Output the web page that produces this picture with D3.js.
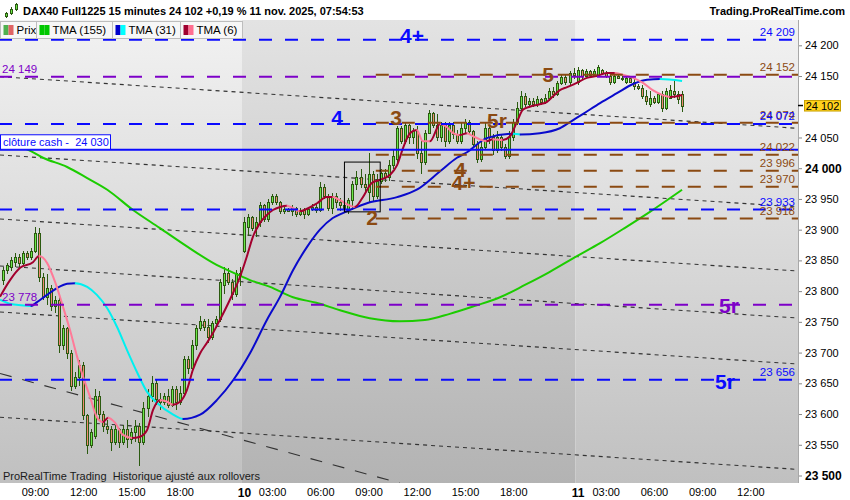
<!DOCTYPE html>
<html><head><meta charset="utf-8">
<script src="https://cdn.jsdelivr.net/npm/d3@7"></script>
<style>body{margin:0;background:#fff;}svg{display:block;font-family:"Liberation Sans",Arial,sans-serif;}text{white-space:pre;}</style>
</head><body><svg id="c" width="850" height="500"></svg>
<script>
// ---------- DATA ----------
const opens=[23818,23834,23840,23848,23855,23845,23862,23855,23866,23895,23823,23790,23805,23775,23785,23712,23740,23700,23645,23660,23680,23598,23550,23565,23630,23600,23580,23575,23555,23575,23555,23575,23560,23570,23580,23555,23610,23630,23650,23625,23620,23630,23615,23640,23620,23635,23690,23675,23712,23740,23752,23742,23725,23748,23755,23810,23830,23815,23795,23830,
23866,23905,23920,23903,23912,23940,23918,23945,23955,23945,23930,23933,23930,23935,23925,23932,23925,23933,23937,23932,23970,23955,23935,23955,23945,23940,23932,23948,23975,23985,23975,23962,23990,23955,23980,23992,23985,24005,24015,24065,24045,24070,24050,24060,24025,24010,24058,24090,24070,24050,24070,24045,24070,24055,24045,24065,24075,24060,24040,24015,24035,24065,24050,24030,24050,24035,24020,24050,24075,24098,24118,24105,24110,24105,24112,24108,24115,24125,24120,24138,24148,24140,24155,
24140,24160,24150,24158,24152,24150,24160,24155,24150,24140,24150,24147,24140,24147,24140,24133,24130,24118,24105,24115,24108,24120,24098,24115,24125,24120,24120];
const highs=[23839,23846,23856,23862,23860,23866,23866,23870,23905,23903,23830,23828,23810,23792,23790,23745,23742,23705,23668,23688,23685,23600,23575,23640,23638,23605,23590,23580,23582,23578,23582,23590,23578,23590,23585,23620,23640,23662,23655,23635,23635,23640,23645,23645,23645,23695,23695,23720,23745,23760,23755,23755,23752,23760,23820,23840,23838,23820,23835,23840,
23920,23925,23922,23920,23945,23942,23950,23958,23958,23947,23937,23936,23940,23937,23935,23935,23937,23942,23943,23978,23975,23958,23960,23960,23952,23945,23952,23980,23995,23998,23990,24025,23995,23990,23998,23998,24013,24030,24068,24068,24075,24072,24065,24068,24045,24062,24095,24092,24088,24075,24075,24075,24075,24062,24075,24080,24078,24062,24045,24048,24075,24068,24055,24060,24055,24040,24060,24080,24108,24125,24122,24115,24115,24117,24115,24120,24130,24132,24142,24152,24152,24158,24163,
24165,24162,24162,24160,24162,24168,24162,24158,24152,24155,24153,24150,24150,24150,24145,24137,24135,24128,24125,24118,24123,24125,24130,24135,24143,24125,24125];
const lows=[23810,23828,23833,23840,23840,23841,23850,23850,23862,23815,23785,23778,23768,23765,23700,23705,23690,23638,23640,23645,23590,23535,23545,23560,23590,23570,23568,23540,23550,23545,23550,23545,23552,23555,23515,23550,23595,23620,23615,23607,23615,23610,23612,23607,23615,23630,23665,23670,23705,23735,23735,23715,23720,23740,23750,23795,23810,23785,23790,23808,
23862,23890,23898,23888,23905,23912,23912,23940,23940,23925,23925,23928,23922,23920,23922,23918,23922,23930,23927,23928,23950,23930,23925,23935,23930,23928,23925,23932,23965,23968,23962,23945,23945,23950,23975,23978,23980,23998,24008,24040,24040,24040,24040,24015,23990,24005,24055,24065,24045,24043,24035,24040,24048,24040,24040,24055,24055,24033,24008,24010,24030,24040,24022,24025,24028,24015,24015,24045,24070,24090,24100,24100,24100,24100,24103,24105,24110,24115,24118,24135,24135,24135,24145,
24135,24145,24148,24148,24150,24148,24152,24147,24135,24137,24145,24142,24137,24138,24128,24127,24112,24103,24100,24104,24105,24092,24095,24112,24115,24105,24092];
const closes=[23834,23842,23851,23855,23845,23862,23855,23866,23895,23823,23790,23805,23775,23785,23712,23740,23700,23645,23660,23680,23598,23550,23570,23630,23600,23580,23575,23555,23575,23555,23575,23560,23570,23580,23555,23610,23630,23650,23625,23620,23630,23615,23640,23620,23635,23690,23675,23712,23740,23752,23742,23725,23748,23755,23815,23830,23815,23795,23830,23825,
23912,23920,23903,23912,23940,23918,23945,23955,23945,23930,23933,23930,23935,23925,23932,23925,23933,23937,23932,23970,23955,23935,23955,23945,23940,23935,23948,23975,23985,23975,23970,23990,23955,23980,23992,23985,24005,24020,24065,24045,24070,24050,24060,24025,24010,24058,24090,24070,24050,24070,24045,24070,24055,24045,24065,24075,24060,24040,24015,24035,24065,24050,24030,24050,24035,24020,24050,24075,24098,24118,24105,24110,24105,24112,24108,24115,24125,24120,24138,24148,24140,24155,24152,
24160,24150,24158,24152,24158,24165,24155,24150,24140,24150,24147,24145,24147,24140,24133,24130,24118,24110,24115,24108,24120,24098,24125,24128,24120,24112,24102];

// moving averages: [bar index, value]
const tma155=[[-0.7,24044],[6.3,24030],[10,24017],[16,24002],[21,23984],[26,23965],[32.4,23932],[39,23903],[46,23872],[52.3,23846],[57.3,23830],[61.5,23818],[66.5,23807],[72.2,23790],[78,23781],[83.9,23769],[91.3,23756],[98.8,23751],[105,23753],[111.2,23763],[117.5,23776],[123.7,23790],[129.9,23810],[136,23831],[142.6,23856],[148.6,23878],[154.8,23903],[161,23929],[169,23965]];
const tma31=[[-0.7,23786],[2,23779],[4.5,23777],[7,23776],[8.5,23782],[11,23794],[13.5,23805],[16,23812],[18,23813],[21,23807],[23.4,23794],[25.9,23773],[28.4,23742],[30.9,23704],[33.4,23668],[35.9,23636],[38.4,23618],[42.4,23599],[44.8,23592],[49.1,23599],[53.3,23623],[57.3,23655],[61.5,23699],[65.7,23753],[69,23791],[72.2,23834],[75.7,23872],[78.9,23900],[82.1,23919],[84.6,23927],[90.6,23943],[98.1,23953],[103,23965],[108.8,23995],[113,24017],[115.5,24026],[120.4,24049],[127,24056],[128.7,24055],[133.6,24057],[138.6,24065],[141.8,24078],[144.3,24088],[148.6,24106],[152.8,24122],[156.8,24137],[160.3,24144],[163.5,24145],[169,24142]];
const tma6=[[-0.7,23791],[1.8,23818],[4.3,23838],[7.5,23847],[9,23857],[11,23846],[13,23815],[15,23774],[16.7,23737],[18.5,23693],[20,23660],[21.7,23628],[23.4,23595],[24.9,23587],[26.2,23594],[27.9,23586],[29.9,23566],[32.2,23561],[34.1,23563],[35.9,23574],[37.4,23607],[39.1,23623],[40.9,23620],[42.3,23615],[44.1,23620],[45.8,23639],[47.3,23672],[49.1,23699],[50.8,23716],[52.3,23732],[54,23753],[56.5,23786],[59,23823],[60.7,23856],[62.2,23888],[64,23911],[65.7,23924],[67.2,23932],[69,23937],[70.7,23939],[72.2,23935],[73.9,23930],[75.7,23934],[78.2,23943],[80.6,23953],[82.1,23953],[83.9,23948],[86.4,23939],[87.6,23937],[89.6,23953],[91.8,23976],[93.8,23981],[96.3,23989],[98.1,24005],[99.6,24033],[101.3,24057],[103,24062],[104.5,24044],[106.3,24044],[108.8,24072],[110.5,24067],[112,24057],[113.7,24054],[115.5,24057],[117,24052],[118.7,24047],[120.4,24044],[121.9,24047],[124.4,24046],[126.2,24052],[127.9,24075],[129.4,24095],[131.1,24100],[133.6,24104],[135.4,24108],[136.9,24117],[138.6,24127],[140.4,24132],[142.8,24139],[145.3,24147],[147.8,24150],[150.3,24155],[152.3,24155],[154.3,24152],[156.8,24147],[159.3,24139],[161.7,24127],[164.2,24119],[166,24116],[167.7,24117],[169,24119]];

// horizontal levels
const levelValues=[24209,24152,24149,24074,24072,24030,24022,23996,23970,23933,23918,23778,23656];
const levelKinds=["blue","brown","purple","brown","blue","cash","brown","brown","brown","blue","brown","purple","blue"];
const rightLabelValues=[24209,24152,24074,24072,24022,23996,23970,23933,23918,23656];
const rightLabelKinds=["blue","brown","brown","blue","brown","brown","brown","blue","brown","blue"];
const leftLabelValues=[24149,23778];
const cashValue=24030, cashText="clôture cash -  24 030";

// slanted trend lines: value at bar -0.7 and at bar 197.6
const trendStartVals=[24149,24021.5,23917.4,23841,23766,23594.8];
const trendEndVals=[24065,23937,23832.8,23756.3,23681.5,23510];
const steepLine=[[-0.7,23666],[98.8,23487.6]];
const boxBars=[85,93.9], boxVals=[24010,23929];

// wave annotations
const annText=["4+","4","3","5","5r","4","4+","2","5r","5r"];
const annVals=[24209,24072,24074,24152,24074,23996,23970,23918,23778,23656];
const annKinds=["blue","blue","brown","brown","brown","brown","brown","brown","purple","blue"];

// x axis ticks (bar indices) and labels
const timeTickIdx=[8,20,32,44,60,67,79,91,103,115,127,143,150,162,174,186];
const timeTickLabels=["09:00","12:00","15:00","18:00","10","03:00","06:00","09:00","12:00","15:00","18:00","11","03:00","06:00","09:00","12:00"];
const dayBounds=[-5,59.5,142.5,210];
const yTicks=[24200,24150,24050,24000,23950,23900,23850,23800,23750,23700,23650,23600,23550,23500];
const lastPrice=24102;
const titleText="DAX40 Full1225 15 minutes 24 102 +0,19 % 11 nov. 2025, 07:54:53";
const legendNames=["Prix","TMA (155)","TMA (31)","TMA (6)"];

// ---------- LAYOUT ----------
const W=850,H=500,pT=20,pB=483,pR=798;
const x=d3.scaleLinear().domain([-0.7,197.6]).range([0,797]);
const y=d3.scaleLinear().domain([23500,24200]).range([475.5,45.3]);
const C={blue:"#0a0aff",brown:"#8b4a12",purple:"#7d00c8",cash:"#0a0aff"};
const annLayout=[[412,3],[337,1],[396,2],[548,7],[497,5],[460,6],[463.5,3],[372,6],[729,8],[725,9]];
const fmt=v=>d3.format(",")(v).replace(",", " ");

const svg=d3.select("#c");
const defs=svg.append("defs");
function grad(id,top,bot){const g=defs.append("linearGradient").attr("id",id).attr("x1",0).attr("y1",0).attr("x2",0).attr("y2",1);
 g.append("stop").attr("offset",0).attr("stop-color",top);g.append("stop").attr("offset",1).attr("stop-color",bot);}
grad("gL","#f2f2f2","#c0c0c0");grad("gD","#e3e3e3","#b3b3b3");
defs.append("clipPath").attr("id","pc").append("rect").attr("x",0).attr("y",pT).attr("width",pR).attr("height",pB-pT);

svg.append("rect").attr("width",W).attr("height",H).attr("fill","#fff");
for(let k=0;k<dayBounds.length-1;k++){
  const x0=Math.max(0,x(dayBounds[k])),x1=Math.min(pR,x(dayBounds[k+1]));
  svg.append("rect").attr("x",x0).attr("y",pT).attr("width",x1-x0).attr("height",pB-pT).attr("fill",k%2?"url(#gD)":"url(#gL)");
}
const plot=svg.append("g").attr("clip-path","url(#pc)");

trendStartVals.forEach((v,k)=>{
  plot.append("line").attr("x1",x(-0.7)).attr("y1",y(v)).attr("x2",x(197.6)).attr("y2",y(trendEndVals[k]))
   .attr("stroke","#333").attr("stroke-width",1.1).attr("stroke-dasharray","4,4");
});
plot.append("line").attr("x1",x(steepLine[0][0])).attr("y1",y(steepLine[0][1])).attr("x2",x(steepLine[1][0])).attr("y2",y(steepLine[1][1]))
  .attr("stroke","#333").attr("stroke-width",1.1).attr("stroke-dasharray","12,11");

const dark="#2b5a10";
const cg=plot.append("g").attr("shape-rendering","crispEdges");
opens.forEach((o,i)=>{
  const c=closes[i],cx=Math.round(x(i));
  const yt=Math.round(y(Math.max(o,c))),yb=Math.round(y(Math.min(o,c)));
  cg.append("rect").attr("x",cx).attr("width",1).attr("y",y(highs[i])).attr("height",y(lows[i])-y(highs[i])).attr("fill",dark);
  const h=Math.max(1,yb-yt);
  cg.append("rect").attr("x",cx-1).attr("width",3).attr("y",yt).attr("height",h+1).attr("fill",dark);
  if(h>=2) cg.append("rect").attr("x",cx).attr("width",1).attr("y",yt+1).attr("height",h-1).attr("fill",c>=o?"#6be84a":"#f08a72");
});

let uid=0;
function maLine(pairs,up,down,w){
  const pts=pairs.map(p=>[x(p[0]),y(p[1])]);
  const d=d3.line().curve(d3.curveMonotoneX)(pts);
  if(!down){plot.append("path").attr("d",d).attr("fill","none").attr("stroke",up).attr("stroke-width",w);return;}
  const runs=[];let prev="up";
  for(let k=0;k<pairs.length-1;k++){
    let dir=pairs[k+1][1]>pairs[k][1]?"up":(pairs[k+1][1]<pairs[k][1]?"down":prev);prev=dir;
    if(runs.length&&runs[runs.length-1].dir===dir)runs[runs.length-1].x1=pts[k+1][0];
    else runs.push({dir,x0:pts[k][0],x1:pts[k+1][0]});
  }
  runs[0].x0-=10;runs[runs.length-1].x1+=10;
  runs.forEach(r=>{
    const id="ma"+(uid++);
    defs.append("clipPath").attr("id",id).append("rect").attr("x",r.x0-0.3).attr("y",0).attr("width",r.x1-r.x0+0.6).attr("height",H);
    plot.append("g").attr("clip-path",`url(#${id})`).append("path").attr("d",d).attr("fill","none")
      .attr("stroke",r.dir==="up"?up:down).attr("stroke-width",w);
  });
}
maLine(tma155,"#1ccc00",null,2);
maLine(tma31,"#0a0acc","#00f0f0",2);
maLine(tma6,"#a3002e","#ff7a98",2);

const brownStart=x(92.8);
levelValues.forEach((v,k)=>{
  const kind=levelKinds[k];
  const l=plot.append("line").attr("x1",kind==="brown"?brownStart:0).attr("x2",pR).attr("y1",y(v)).attr("y2",y(v))
   .attr("stroke",C[kind]).attr("stroke-width",2);
  if(kind!=="cash")l.attr("stroke-dasharray","13,13").attr("stroke-dashoffset",kind==="brown"?0:1);
});
plot.append("rect").attr("x",x(boxBars[0])).attr("y",y(boxVals[0])).attr("width",x(boxBars[1])-x(boxBars[0])).attr("height",y(boxVals[1])-y(boxVals[0]))
  .attr("fill","none").attr("stroke","#000").attr("stroke-width",1);

rightLabelValues.forEach((v,k)=>{
  plot.append("text").attr("x",795).attr("y",y(v)-3.5).attr("text-anchor","end").attr("font-size",11.5)
   .attr("fill",C[rightLabelKinds[k]]).text(fmt(v));
});
leftLabelValues.forEach(v=>{
  plot.append("text").attr("x",2).attr("y",y(v)-3.5).attr("font-size",11.5).attr("fill",C.purple).text(fmt(v));
});
plot.append("rect").attr("x",0.5).attr("y",y(cashValue)-15).attr("width",110).attr("height",14.5).attr("fill","#fff").attr("stroke",C.blue);
plot.append("text").attr("x",3).attr("y",y(cashValue)-4).attr("font-size",11).attr("fill",C.blue).text(cashText);

annText.forEach((t,k)=>{
  plot.append("text").attr("x",annLayout[k][0]).attr("y",y(annVals[k])+annLayout[k][1]).attr("text-anchor","middle")
   .attr("font-size",21).attr("font-weight","bold").attr("fill",C[annKinds[k]]).text(t);
});
plot.append("text").attr("x",3).attr("y",480).attr("font-size",11).attr("fill","#1a1a1a").text("ProRealTime Trading  Historique ajusté aux rollovers");

const ya=svg.append("g").attr("transform",`translate(${pR},0)`)
 .call(d3.axisRight(y).tickValues(yTicks).tickFormat(fmt).tickSize(4).tickPadding(3));
ya.select(".domain").remove();
ya.selectAll(".tick line").attr("stroke","#888");
ya.selectAll(".tick text").attr("font-family","Liberation Sans, Arial").attr("font-size",11).attr("fill","#000")
  .filter(d=>d%500===0).attr("font-weight","bold").attr("font-size",12);
svg.append("line").attr("x1",pR+0.5).attr("x2",pR+0.5).attr("y1",pT).attr("y2",pB).attr("stroke","#a8a8a8");
svg.append("line").attr("x1",pR).attr("x2",pR+5).attr("y1",y(lastPrice)).attr("y2",y(lastPrice)).attr("stroke","#000").attr("stroke-width",1.5);
svg.append("rect").attr("x",804.5).attr("y",y(lastPrice)-5).attr("width",36).attr("height",10.5).attr("fill","#ffd21c").attr("stroke","#c8a000");
svg.append("text").attr("x",822.5).attr("y",y(lastPrice)+4).attr("text-anchor","middle").attr("font-size",11).text(fmt(lastPrice));

const xa=svg.append("g").attr("transform",`translate(0,${pB})`)
 .call(d3.axisBottom(x).tickValues(timeTickIdx).tickFormat((d,k)=>timeTickLabels[k]).tickSize(0).tickPadding(5));
xa.select(".domain").remove();
xa.selectAll(".tick text").attr("font-family","Liberation Sans, Arial").attr("font-size",11).attr("fill","#000")
  .filter((d,k)=>timeTickLabels[k].length<3).attr("font-weight","bold").attr("font-size",12);

svg.append("rect").attr("width",W).attr("height",pT).attr("fill","#fff");
const ic=svg.append("g").attr("shape-rendering","crispEdges");
[[5,12,18,13,17],[10,7,15,9,14],[15,3,11,4,10]].forEach(a=>{
  ic.append("rect").attr("x",a[0]+1).attr("y",a[1]).attr("width",1).attr("height",a[2]-a[1]).attr("fill",dark);
  ic.append("rect").attr("x",a[0]).attr("y",a[3]).attr("width",3).attr("height",a[4]-a[3]).attr("fill",dark);
  ic.append("rect").attr("x",a[0]+1).attr("y",a[3]+1).attr("width",1).attr("height",a[4]-a[3]-2).attr("fill","#6be84a");
});
svg.append("text").attr("x",23).attr("y",15).attr("font-size",11).attr("font-weight","bold").text(titleText);
svg.append("text").attr("x",845).attr("y",15).attr("text-anchor","end").attr("font-size",11).attr("font-weight","bold").text("Trading.ProRealTime.com");

const tabX=[0.5,36.5,112.5,180.5,242.5];
const iconCols=[["#4fb04f","#e06464"],["#00c800","#00c800"],["#0000cc","#00ffff"],["#a00030","#ff6f90"]];
legendNames.forEach((n,k)=>{
  svg.append("rect").attr("x",tabX[k]).attr("y",21.5).attr("width",tabX[k+1]-tabX[k]).attr("height",17).attr("fill","#f7f7f7").attr("stroke","#bdbdbd");
  const ix=tabX[k]+3;
  svg.append("rect").attr("x",ix).attr("y",25).attr("width",5).attr("height",10).attr("fill",iconCols[k][0]);
  svg.append("rect").attr("x",ix+5).attr("y",25).attr("width",5).attr("height",10).attr("fill",iconCols[k][1]);
  svg.append("text").attr("x",ix+13).attr("y",34).attr("font-size",11.5).attr("fill","#000").text(n);
});
</script></body></html>
